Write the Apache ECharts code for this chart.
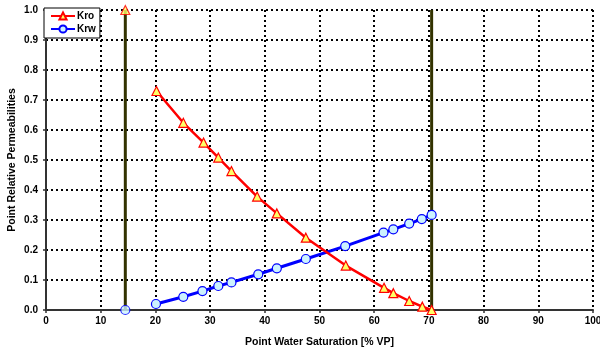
<!DOCTYPE html>
<html>
<head>
<meta charset="utf-8">
<script src="https://cdn.jsdelivr.net/npm/echarts@6/dist/echarts.min.js"></script>
<style>
html, body { margin: 0; padding: 0; background: #fff; }
#chart { width: 600px; height: 353px; }
</style>
</head>
<body>
<div id="chart"></div>
<script>
// water saturation [% VP] of the measured points
var swKro = [20.2, 25.1, 28.8, 31.5, 33.9, 38.6, 42.2, 47.5, 54.8, 61.8, 63.5, 66.4, 68.8, 70.5];
var kro = [0.73, 0.624, 0.558, 0.508, 0.463, 0.378, 0.322, 0.241, 0.148, 0.074, 0.056, 0.03, 0.011, 0.0];
var swKrw = [20.1, 25.1, 28.6, 31.5, 33.9, 38.8, 42.2, 47.5, 54.7, 61.7, 63.5, 66.4, 68.7, 70.5];
var krw = [0.02, 0.044, 0.063, 0.08, 0.092, 0.119, 0.139, 0.17, 0.213, 0.258, 0.269, 0.288, 0.303, 0.317];
// end points (Swi / 1-Sor)
var swEnd = [14.5, 70.5];
var kroEnd = [1.0];
var krwEnd = [0.0];

var font = 'Liberation Sans, Arial, sans-serif';

function pairs(xs, ys) {
    var out = [];
    for (var i = 0; i < xs.length; i++) out.push([xs[i], ys[i]]);
    return out;
}

function ext(a, b) {
    for (var k in b) a[k] = b[k];
    return a;
}

var kroStyle = {
    color: '#ff0000',
    symbol: 'triangle',
    symbolSize: 9,
    itemStyle: { color: '#ffff66', borderColor: '#ff0000', borderWidth: 1.2 },
    lineStyle: { color: '#ff0000', width: 2.5 }
};
var krwStyle = {
    color: '#0000ff',
    symbol: 'circle',
    symbolSize: 9,
    itemStyle: { color: '#ccf2ff', borderColor: '#0000ff', borderWidth: 1.2 },
    lineStyle: { color: '#0000ff', width: 3 }
};

var series = [];
swEnd.forEach(function (x, i) {
    series.push({
        name: 'end' + i,
        type: 'line',
        data: [[x, 0], [x, 1]],
        symbol: 'none',
        silent: true,
        lineStyle: { color: '#333300', width: 3 },
        z: 1
    });
});
series.push(ext({ name: 'Kro', type: 'line', data: pairs(swKro, kro), showAllSymbol: true, z: 3 }, kroStyle));
series.push(ext({ name: 'Krw', type: 'line', data: pairs(swKrw, krw), showAllSymbol: true, z: 2 }, krwStyle));
series.push(ext({ name: 'Kro end', type: 'scatter', data: [[swEnd[0], kroEnd[0]]], z: 4 }, kroStyle));
series.push(ext({ name: 'Krw end', type: 'scatter', data: [[swEnd[0], krwEnd[0]]], z: 4 }, krwStyle));

var chart = echarts.init(document.getElementById('chart'));
chart.setOption({
    animation: false,
    textStyle: { fontFamily: font },
    grid: { left: 46, right: 7, top: 10, bottom: 43, containLabel: false, outerBoundsMode: 'none' },
    legend: {
        data: ['Kro', 'Krw'],
        left: 44, top: 8,
        orient: 'vertical',
        backgroundColor: '#fff',
        borderColor: '#000',
        borderWidth: 1,
        borderRadius: 0,
        padding: [3, 4, 4, 6],
        itemGap: 3,
        itemWidth: 24,
        itemHeight: 9,
        textStyle: { fontSize: 10, fontWeight: 'bold', color: '#000', fontFamily: font, padding: [0, 0, 0, -3] }
    },
    xAxis: {
        type: 'value', min: 0, max: 100, interval: 10,
        name: 'Point Water Saturation [% VP]',
        nameLocation: 'middle', nameGap: 27, nameMoveOverlap: false,
        nameTextStyle: { fontSize: 10.5, fontWeight: 'bold', color: '#000' },
        axisLine: { lineStyle: { color: '#333', width: 2 } },
        axisTick: { show: true, length: 3, lineStyle: { color: '#333', width: 1.5 } },
        axisLabel: { fontSize: 10, fontWeight: 'bold', color: '#000', margin: 6 },
        splitLine: { show: true, lineStyle: { color: '#000', width: 2, type: [2, 3] } }
    },
    yAxis: {
        type: 'value', min: 0, max: 1, interval: 0.1,
        name: 'Point Relative Permeabilities',
        nameLocation: 'middle', nameGap: 28, nameMoveOverlap: false,
        nameTextStyle: { fontSize: 10.5, fontWeight: 'bold', color: '#000' },
        axisLine: { show: true, lineStyle: { color: '#333', width: 2 } },
        axisTick: { show: true, length: 3, lineStyle: { color: '#333', width: 1.5 } },
        axisLabel: { fontSize: 10, fontWeight: 'bold', color: '#000', margin: 8,
            formatter: function (v) { return v.toFixed(1); } },
        splitLine: { show: true, lineStyle: { color: '#000', width: 2, type: [2, 3] } }
    },
    series: series
});
</script>
</body>
</html>
